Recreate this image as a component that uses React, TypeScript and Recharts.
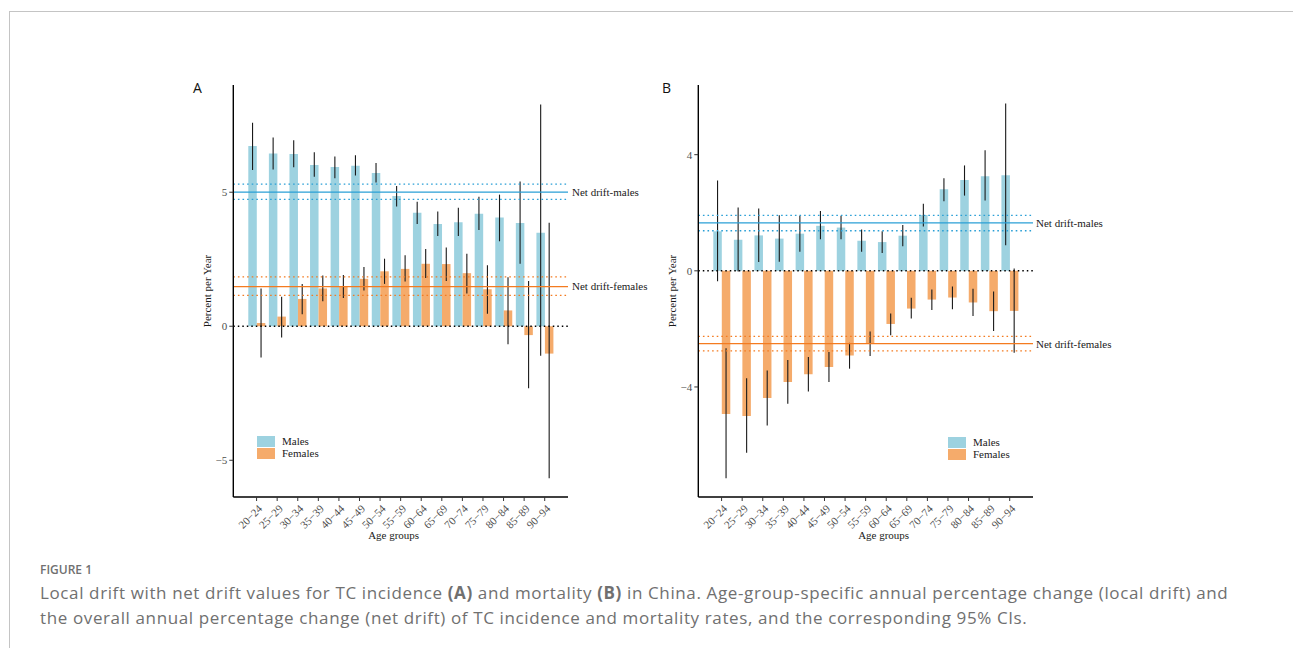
import React from "react";
import { ComposedChart, Bar, XAxis, YAxis, ErrorBar, ReferenceLine, Legend, Label } from "recharts";

const SERIF = '"Liberation Serif", "DejaVu Serif", serif';
const SANS = '"Open Sans", "Noto Sans", sans-serif';

const MALE_FILL = "#9dd2e0";
const FEMALE_FILL = "#f5ab6b";
const MALE_LINE = "#2a9fd6";
const FEMALE_LINE = "#f47b20";

const AGE_GROUPS = ["20−24", "25−29", "30−34", "35−39", "40−44", "45−49", "50−54", "55−59", "60−64", "65−69", "70−74", "75−79", "80−84", "85−89", "90−94"];

// A: incidence, local drift (% per year) with 95% CI
const incMales = [6.72, 6.44, 6.43, 6.02, 5.94, 5.99, 5.72, 4.86, 4.23, 3.81, 3.88, 4.2, 4.06, 3.85, 3.49];
const incMalesLow = [5.83, 5.85, 5.93, 5.58, 5.52, 5.62, 5.36, 4.47, 3.81, 3.37, 3.37, 3.59, 3.17, 2.33, -1.1];
const incMalesHigh = [7.59, 7.04, 6.94, 6.49, 6.33, 6.38, 6.09, 5.23, 4.64, 4.28, 4.42, 4.83, 4.91, 5.4, 8.27];
const incFemales = [0.12, 0.36, 1.02, 1.41, 1.48, 1.77, 2.05, 2.14, 2.33, 2.32, 1.98, 1.38, 0.59, -0.33, -1.02];
const incFemalesLow = [-1.17, -0.42, 0.45, 0.93, 1.05, 1.33, 1.58, 1.67, 1.8, 1.69, 1.22, 0.47, -0.67, -2.31, -5.67];
const incFemalesHigh = [1.41, 1.1, 1.58, 1.89, 1.91, 2.21, 2.52, 2.65, 2.88, 2.94, 2.7, 2.28, 1.83, 1.69, 3.86];
// net drift: [low, estimate, high]
const incNetMales = [4.73, 5.0, 5.3];
const incNetFemales = [1.15, 1.48, 1.84];

// B: mortality
const mortMales = [1.36, 1.07, 1.22, 1.11, 1.28, 1.55, 1.49, 1.04, 0.99, 1.21, 1.92, 2.81, 3.13, 3.26, 3.29];
const mortMalesLow = [-0.36, -0.02, 0.3, 0.31, 0.66, 1.09, 1.09, 0.66, 0.61, 0.85, 1.53, 2.4, 2.59, 2.42, 0.88];
const mortMalesHigh = [3.11, 2.18, 2.15, 1.91, 1.9, 2.06, 1.9, 1.42, 1.36, 1.58, 2.31, 3.19, 3.63, 4.15, 5.76];
const mortFemales = [-4.93, -5.0, -4.38, -3.83, -3.56, -3.31, -2.92, -2.49, -1.83, -1.3, -0.99, -0.92, -1.09, -1.39, -1.38];
const mortFemalesLow = [-7.14, -6.27, -5.33, -4.58, -4.16, -3.83, -3.37, -2.93, -2.22, -1.64, -1.35, -1.32, -1.56, -2.07, -2.82];
const mortFemalesHigh = [-2.67, -3.7, -3.43, -3.07, -2.97, -2.8, -2.48, -2.09, -1.47, -0.93, -0.64, -0.54, -0.62, -0.71, 0.08];
const mortNetMales = [1.38, 1.65, 1.91];
const mortNetFemales = [-2.76, -2.51, -2.26];

const buildRows = (m: number[], mLo: number[], mHi: number[], f: number[], fLo: number[], fHi: number[]) =>
  AGE_GROUPS.map((g, i) => ({
    group: g,
    males: m[i],
    malesErr: [m[i] - mLo[i], mHi[i] - m[i]],
    females: f[i],
    femalesErr: [f[i] - fLo[i], fHi[i] - f[i]],
  }));

const fmtTick = (v: number) => (v < 0 ? `−${-v}` : `${v}`);

const AgeTick = (props: any) => {
  const { x, y, payload } = props;
  return (
    <g transform={`translate(${x},${y})`}>
      <text x={0} y={0} dy={9} textAnchor="end" transform="rotate(-45)" fontSize={11} fontFamily={SERIF} fill="#4d4d4d">
        {payload.value}
      </text>
    </g>
  );
};

const LegendBox = () => (
  <div style={{ fontFamily: SERIF, fontSize: 11, color: "#1a1a1a", lineHeight: "12px" }}>
    {[
      ["Males", MALE_FILL],
      ["Females", FEMALE_FILL],
    ].map(([name, c]) => (
      <div key={name} style={{ display: "flex", alignItems: "center", height: 12 }}>
        <span style={{ display: "inline-block", width: 18, height: 11, background: c, marginRight: 7 }} />
        <span>{name}</span>
      </div>
    ))}
  </div>
);

interface PanelProps {
  rows: ReturnType<typeof buildRows>;
  domain: [number, number];
  ticks: number[];
  netMales: number[];
  netFemales: number[];
  titleDx: number;
  legendX: number;
  legendY: number;
  labelOffset: number;
}

function Panel({ rows, domain, ticks, netMales, netFemales, titleDx, legendX, legendY, labelOffset }: PanelProps) {
  const lbl = (value: string) => ({ value, position: "right" as const, offset: labelOffset, fill: "#1a1a1a", fontSize: 11, fontFamily: SERIF });
  return (
    <ComposedChart width={560} height={520} data={rows} margin={{ top: 25, right: 132, bottom: 33, left: 30 }} barGap={0}>
      <XAxis
        dataKey="group"
        interval={0}
        padding={{ left: 13, right: 13 }}
        height={50}
        tick={<AgeTick />}
        tickSize={4}
        tickMargin={2}
        tickLine={{ stroke: "#333" }}
        axisLine={{ stroke: "#000", strokeWidth: 1.4 }}
      >
        <Label
          content={(p: any) => {
            const vb = p.viewBox;
            return (
              <text x={vb.x + vb.width / 2 + titleDx} y={vb.y + 42} textAnchor="middle" fontSize={11} fontFamily={SERIF} fill="#1a1a1a">
                Age groups
              </text>
            );
          }}
        />
      </XAxis>
      <YAxis
        type="number"
        domain={domain}
        ticks={ticks}
        allowDataOverflow
        width={63.3}
        tickFormatter={fmtTick}
        tick={{ fill: "#4d4d4d", fontSize: 11, fontFamily: SERIF }}
        tickSize={4}
        tickMargin={2}
        tickLine={{ stroke: "#333" }}
        axisLine={{ stroke: "#000", strokeWidth: 1.4 }}
      >
        <Label
          content={(p: any) => {
            const vb = p.viewBox;
            const cx = vb.x + vb.width - 22.5;
            const cy = vb.y + vb.height / 2;
            return (
              <text x={cx} y={cy} textAnchor="middle" transform={`rotate(-90, ${cx}, ${cy})`} fontSize={11} fontFamily={SERIF} fill="#1a1a1a">
                Percent per Year
              </text>
            );
          }}
        />
      </YAxis>
      <Legend
        layout="horizontal"
        verticalAlign="middle"
        align="center"
        content={() => <LegendBox />}
        wrapperStyle={{ position: "absolute", left: legendX, top: legendY, width: "auto", height: "auto" }}
      />
      <Bar dataKey="males" fill={MALE_FILL} barSize={8.5} isAnimationActive={false}>
        <ErrorBar dataKey="malesErr" width={0} stroke="#1a1a1a" strokeWidth={1.1} direction="y" isAnimationActive={false} />
      </Bar>
      <Bar dataKey="females" fill={FEMALE_FILL} barSize={8.5} isAnimationActive={false}>
        <ErrorBar dataKey="femalesErr" width={0} stroke="#1a1a1a" strokeWidth={1.1} direction="y" isAnimationActive={false} />
      </Bar>
      <ReferenceLine y={0} stroke="#000" strokeWidth={1.4} strokeDasharray="1.5 3" />
      <ReferenceLine y={netMales[0]} stroke={MALE_LINE} strokeWidth={1.3} strokeDasharray="1.6 3" />
      <ReferenceLine y={netMales[2]} stroke={MALE_LINE} strokeWidth={1.3} strokeDasharray="1.6 3" />
      <ReferenceLine y={netMales[1]} stroke={MALE_LINE} strokeWidth={1.3} label={lbl("Net drift-males")} />
      <ReferenceLine y={netFemales[0]} stroke={FEMALE_LINE} strokeWidth={1.3} strokeDasharray="1.6 3" />
      <ReferenceLine y={netFemales[2]} stroke={FEMALE_LINE} strokeWidth={1.3} strokeDasharray="1.6 3" />
      <ReferenceLine y={netFemales[1]} stroke={FEMALE_LINE} strokeWidth={1.3} label={lbl("Net drift-females")} />
    </ComposedChart>
  );
}

const incRows = buildRows(incMales, incMalesLow, incMalesHigh, incFemales, incFemalesLow, incFemalesHigh);
const mortRows = buildRows(mortMales, mortMalesLow, mortMalesHigh, mortFemales, mortFemalesLow, mortFemalesHigh);

export default function App() {
  return (
    <div style={{ position: "absolute", left: 0, top: 0, width: 1293, height: 648, background: "#fff", overflow: "hidden" }}>
      <div style={{ position: "absolute", left: 9, top: 11, width: 1400, height: 800, border: "1px solid #c4c4c4" }} />
      <div style={{ position: "absolute", left: 193, top: 81, fontFamily: SANS, fontSize: 14, lineHeight: "14px", color: "#111" }}>A</div>
      <div style={{ position: "absolute", left: 662, top: 81, fontFamily: SANS, fontSize: 14, lineHeight: "14px", color: "#111" }}>B</div>
      <div style={{ position: "absolute", left: 140, top: 60 }}>
        <Panel
          rows={incRows}
          domain={[-6.37, 9.0]}
          ticks={[-5, 0, 5]}
          netMales={incNetMales}
          netFemales={incNetFemales}
          titleDx={-7}
          legendX={117}
          legendY={375}
          labelOffset={4}
        />
      </div>
      <div style={{ position: "absolute", left: 605, top: 60 }}>
        <Panel
          rows={mortRows}
          domain={[-7.79, 6.4]}
          ticks={[-4, 0, 4]}
          netMales={mortNetMales}
          netFemales={mortNetFemales}
          titleDx={18}
          legendX={343}
          legendY={376}
          labelOffset={3}
        />
      </div>
      <div style={{ position: "absolute", left: 40, top: 562, fontFamily: SANS, fontSize: 12, fontWeight: 600, color: "#707070", lineHeight: "16px" }}>
        FIGURE 1
      </div>
      <div style={{ position: "absolute", left: 40, top: 580, fontFamily: SANS, fontSize: 17, letterSpacing: 0.62, color: "#707070", lineHeight: "25px", whiteSpace: "nowrap" }}>
        Local drift with net drift values for TC incidence <b>(A)</b> and mortality <b>(B)</b> in China. Age-group-specific annual percentage change (local drift) and
        <br />
        the overall annual percentage change (net drift) of TC incidence and mortality rates, and the corresponding 95% CIs.
      </div>
    </div>
  );
}
